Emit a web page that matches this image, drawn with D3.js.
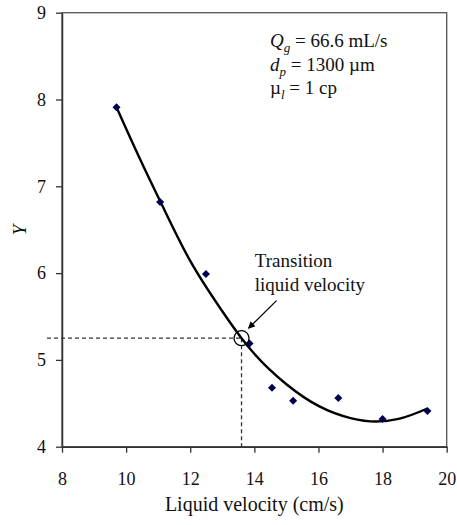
<!DOCTYPE html>
<html>
<head>
<meta charset="utf-8">
<script src="https://cdn.jsdelivr.net/npm/d3@7"></script>
<style>
    body { margin: 0; background: #fff; }
    svg text { font-family: "Liberation Serif", "Times New Roman", serif; }
</style>
</head>
<body>
<div id="chart"></div>
<script>
// measured points
let velocity = [9.7, 11.06, 12.49, 13.85, 14.55, 15.21, 16.62, 18.0, 19.4];
let yValues = [7.91, 6.82, 5.99, 5.19, 4.68, 4.53, 4.56, 4.32, 4.41];

// trend line
let fitVelocity = [9.7, 10.4, 11.06, 12, 13, 13.6, 14, 15, 16, 17, 17.8, 18.5, 19.4];
let fitY = [7.91, 7.34, 6.83, 6.14, 5.56, 5.25, 5.07, 4.72, 4.47, 4.33, 4.29, 4.32, 4.44];

let xTicks = [8, 10, 12, 14, 16, 18, 20];
let yTicks = [4, 5, 6, 7, 8, 9];

let transitionVelocity = 13.6;
let transitionY = 5.25;

let width = 457, height = 525;
let margin = {top: 12.7, right: 10.3, bottom: 78.3, left: 62};
let w = width - margin.left - margin.right;
let h = height - margin.top - margin.bottom;

let svg = d3.select("#chart").append("svg")
    .attr("width", width)
    .attr("height", height);

let defs = svg.append("defs");
defs.append("marker")
    .attr("id", "arrow")
    .attr("viewBox", "0 0 10 10")
    .attr("refX", 9)
    .attr("refY", 5)
    .attr("markerWidth", 7)
    .attr("markerHeight", 7)
    .attr("markerUnits", "userSpaceOnUse")
    .attr("orient", "auto")
    .append("path")
    .attr("d", "M0,0 L10,5 L0,10 z")
    .attr("fill", "#000");

let g = svg.append("g")
    .attr("transform", "translate(" + margin.left + "," + margin.top + ")");

let x = d3.scaleLinear().domain([8, 20]).range([0, w]);
let y = d3.scaleLinear().domain([4, 9]).range([h, 0]);

// frame
g.append("rect")
    .attr("width", w)
    .attr("height", h)
    .attr("fill", "none")
    .attr("stroke", "#555")
    .attr("stroke-width", 1.3);

let xAxis = g.append("g")
    .attr("transform", "translate(0," + h + ")")
    .call(d3.axisBottom(x).tickValues(xTicks).tickFormat(d3.format("d"))
        .tickSize(6).tickSizeOuter(0).tickPadding(19.5));
let yAxis = g.append("g")
    .call(d3.axisLeft(y).tickValues(yTicks).tickFormat(d3.format("d"))
        .tickSize(6).tickSizeOuter(0).tickPadding(10));

[xAxis, yAxis].forEach(function(a) {
    a.attr("font-family", "Liberation Serif").attr("font-size", 18);
    a.select(".domain").attr("stroke", "#333").attr("stroke-width", 1.5);
    a.selectAll(".tick line").attr("stroke", "#333").attr("stroke-width", 1.3);
    a.selectAll(".tick text").attr("fill", "#111");
});

// dashed guide lines to the transition point
let tx = x(transitionVelocity), ty = y(transitionY);
g.append("line")
    .attr("x1", -15).attr("x2", tx)
    .attr("y1", ty).attr("y2", ty)
    .attr("stroke", "#333").attr("stroke-width", 1.3)
    .attr("stroke-dasharray", "4,3");
g.append("line")
    .attr("x1", tx).attr("x2", tx)
    .attr("y1", ty).attr("y2", h)
    .attr("stroke", "#333").attr("stroke-width", 1.3)
    .attr("stroke-dasharray", "4,3");

// trend curve
let fit = fitVelocity.map(function(v, i) { return [v, fitY[i]]; });
g.append("path")
    .datum(fit)
    .attr("fill", "none")
    .attr("stroke", "#000")
    .attr("stroke-width", 2.4)
    .attr("d", d3.line()
        .x(function(d) { return x(d[0]); })
        .y(function(d) { return y(d[1]); })
        .curve(d3.curveMonotoneX));

// points
let pts = velocity.map(function(v, i) { return [v, yValues[i]]; });
g.selectAll(".pt")
    .data(pts)
    .enter().append("path")
    .attr("class", "pt")
    .attr("d", d3.symbol().type(d3.symbolSquare).size(32))
    .attr("fill", "#000055")
    .attr("transform", function(d) {
        return "translate(" + x(d[0]) + "," + y(d[1]) + ") rotate(45)";
    });

// transition circle + arrow
g.append("circle")
    .attr("cx", tx).attr("cy", ty).attr("r", 7.5)
    .attr("fill", "none")
    .attr("stroke", "#000")
    .attr("stroke-width", 1.3);
g.append("line")
    .attr("x1", tx + 35).attr("y1", ty - 37.6)
    .attr("x2", tx + 7).attr("y2", ty - 10)
    .attr("stroke", "#000")
    .attr("stroke-width", 1.3)
    .attr("marker-end", "url(#arrow)");

let note = g.append("text")
    .attr("x", tx + 13.3)
    .attr("y", ty - 71.6)
    .style("font-size", "19px")
    .attr("fill", "#111");
note.append("tspan").text("Transition");
note.append("tspan").attr("x", tx + 13.3).attr("dy", 24).text("liquid velocity");

// conditions
let info = g.append("text")
    .attr("x", 208)
    .attr("y", 34.3)
    .style("font-size", "19px")
    .attr("fill", "#111");
let l1 = info.append("tspan").attr("x", 208);
l1.append("tspan").style("font-style", "italic").text("Q");
l1.append("tspan").style("font-style", "italic").style("font-size", "13px").attr("dy", 5).text("g");
l1.append("tspan").attr("dy", -5).text(" = 66.6 mL/s");
let l2 = info.append("tspan").attr("x", 208).attr("dy", 24);
l2.append("tspan").style("font-style", "italic").text("d");
l2.append("tspan").style("font-style", "italic").style("font-size", "13px").attr("dy", 5).text("p");
l2.append("tspan").attr("dy", -5).text(" = 1300 \u00b5m");
let l3 = info.append("tspan").attr("x", 208).attr("dy", 23);
l3.append("tspan").text("\u00b5");
l3.append("tspan").style("font-style", "italic").style("font-size", "13px").attr("dy", 5).text("l");
l3.append("tspan").attr("dy", -5).text(" = 1 cp");

// axis titles
svg.append("text")
    .attr("x", margin.left + w / 2)
    .attr("y", 511)
    .attr("text-anchor", "middle")
    .style("font-size", "20px")
    .attr("fill", "#111")
    .text("Liquid velocity (cm/s)");

svg.append("text")
    .attr("transform", "translate(26,230) rotate(-90)")
    .attr("text-anchor", "middle")
    .style("font-size", "19px")
    .style("font-style", "italic")
    .attr("fill", "#111")
    .text("Y");
</script>
</body>
</html>
